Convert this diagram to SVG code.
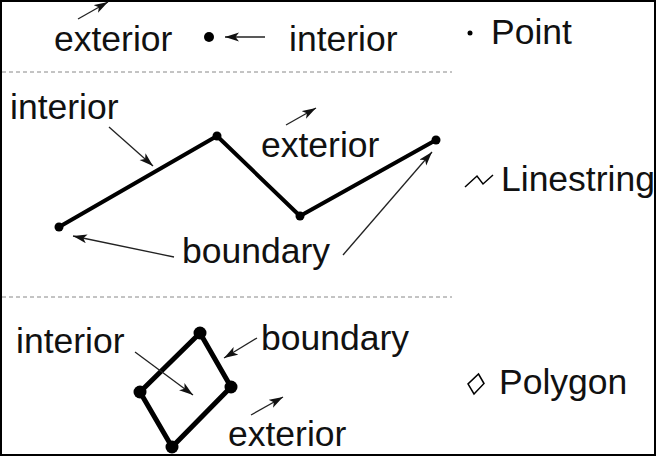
<svg xmlns="http://www.w3.org/2000/svg" width="657" height="457" viewBox="0 0 657 457">
<style>
.t{font-family:"Liberation Sans",Arial,sans-serif;font-size:35.5px;fill:#111}
.arr{stroke:#222;stroke-width:1.3;fill:none;marker-end:url(#ah)}
.geo{stroke:#000;stroke-width:4;fill:none;stroke-linejoin:round}
.dash{stroke:#888;stroke-width:1;stroke-dasharray:4 3}
.ico{stroke:#000;stroke-width:1.5;fill:none}
</style>
<defs>
<marker id="ah" markerUnits="userSpaceOnUse" markerWidth="15" markerHeight="10" refX="14" refY="4.5" orient="auto">
<path d="M0,0 L14,4.5 L0,9 L3.5,4.5 z" fill="#111"/>
</marker>
</defs>
<rect x="1" y="1" width="654" height="454" fill="#fff" stroke="#000" stroke-width="2"/>
<g id="separators">
<line class="dash" x1="2" y1="72" x2="452" y2="72"/>
<line class="dash" x1="2" y1="297" x2="452" y2="297"/>
</g>
<g id="point">
<circle cx="209" cy="37" r="5" fill="#000"/>
<text class="t" x="54" y="51">exterior</text>
<text class="t" x="289" y="51">interior</text>
</g>
<g id="point-legend">
<circle cx="470" cy="33" r="2.5" fill="#000"/>
<text class="t" x="491" y="44">Point</text>
</g>
<g id="linestring">
<polyline class="geo" points="59,227 217,136 300,216 436,140"/>
<circle cx="59" cy="227" r="4.5" fill="#000"/>
<circle cx="217" cy="136" r="4.5" fill="#000"/>
<circle cx="300" cy="216" r="4.5" fill="#000"/>
<circle cx="436" cy="140" r="4.5" fill="#000"/>
<text class="t" x="10" y="119">interior</text>
<text class="t" x="261" y="157">exterior</text>
<text class="t" x="182" y="263">boundary</text>
</g>
<g id="linestring-legend">
<polyline class="ico" points="465,187 477,176 483,184 493,175"/>
<text class="t" x="501" y="191">Linestring</text>
</g>
<g id="polygon">
<polygon class="geo" style="stroke-width:5" points="200,333 231,387 172,447 140,392"/>
<circle cx="200" cy="333" r="6.5" fill="#000"/>
<circle cx="231" cy="387" r="6.5" fill="#000"/>
<circle cx="172" cy="447" r="6.5" fill="#000"/>
<circle cx="140" cy="392" r="6.5" fill="#000"/>
<text class="t" x="16" y="353">interior</text>
<text class="t" x="261" y="350">boundary</text>
<text class="t" x="228" y="446">exterior</text>
</g>
<g id="polygon-legend">
<polygon class="ico" points="478.5,374 484,383.5 474,394 468,384"/>
<text class="t" x="499" y="394">Polygon</text>
</g>
<g id="connectors">
<line class="arr" x1="78" y1="19" x2="108" y2="2"/>
<line class="arr" x1="265" y1="37" x2="225" y2="37"/>
<line class="arr" x1="109" y1="127" x2="153" y2="166"/>
<line class="arr" x1="286" y1="125" x2="316" y2="108"/>
<line class="arr" x1="174" y1="257" x2="73" y2="236"/>
<line class="arr" x1="343" y1="255" x2="432" y2="152"/>
<line class="arr" x1="135" y1="352" x2="193" y2="395"/>
<line class="arr" x1="257" y1="338" x2="224" y2="358"/>
<line class="arr" x1="251" y1="415" x2="283" y2="397"/>
</g>
</svg>
